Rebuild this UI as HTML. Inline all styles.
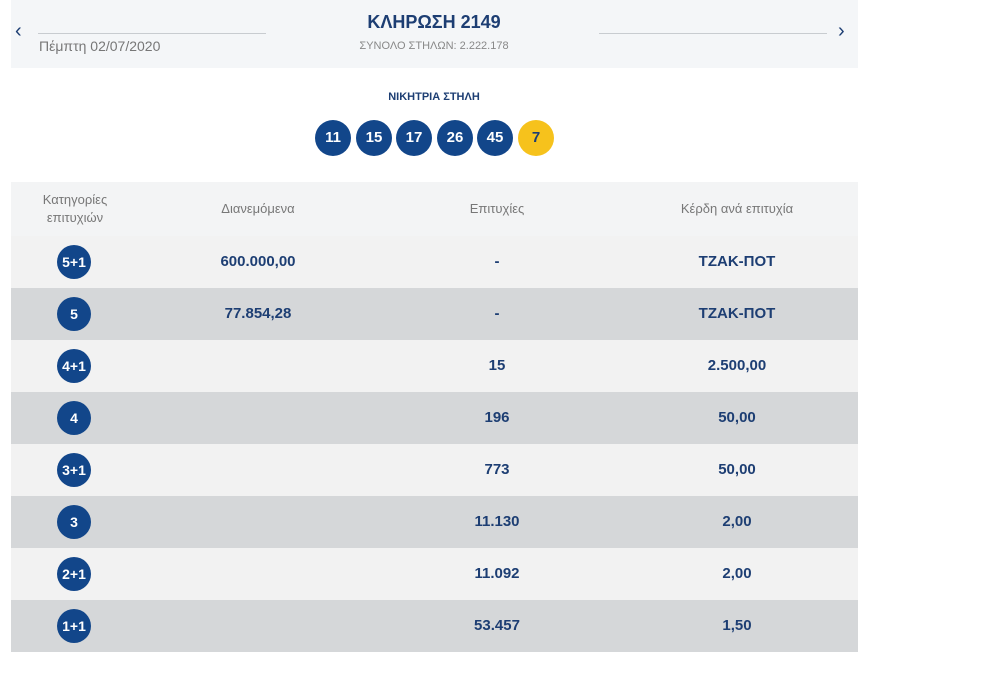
<!DOCTYPE html>
<html><head><meta charset="utf-8"><style>
body{margin:0;width:984px;height:691px;background:#fff;font-family:"Liberation Sans",sans-serif;position:relative;overflow:hidden}
.abs{position:absolute}
.hdr{left:11px;top:0;width:847px;height:68px;background:#f4f6f8}
.line{height:1px;background:#c8ccd0;top:33px}
.ball{width:36px;height:36px;border-radius:50%;background:#12468a;color:#fff;font-weight:bold;font-size:15px;line-height:36px;text-align:center;top:120px}
.row{left:11px;width:847px;height:52px}
.cell{position:absolute;top:0;height:52px;line-height:52px;text-align:center;font-weight:bold;font-size:15px;color:#1d3e73}
.cat{position:absolute;left:46px;top:9px;width:34px;height:34px;border-radius:50%;background:#12468a;color:#fff;font-weight:bold;font-size:14px;line-height:34px;text-align:center}
.th{position:absolute;color:#777;font-size:13px;text-align:center}
</style></head><body>
<div class="abs hdr"></div>
<div class="abs" style="left:15px;top:20px;font-size:20px;color:#1d3e73">‹</div>
<div class="abs" style="left:838px;top:20px;font-size:20px;color:#1d3e73">›</div>
<div class="abs line" style="left:38px;width:228px"></div>
<div class="abs line" style="left:599px;width:228px"></div>
<div class="abs" style="left:39px;top:38px;font-size:14px;color:#777">Πέμπτη 02/07/2020</div>
<div class="abs" style="left:300px;width:268px;top:12px;text-align:center;font-size:18px;font-weight:bold;color:#1d3e73">ΚΛΗΡΩΣΗ 2149</div>
<div class="abs" style="left:300px;width:268px;top:40px;text-align:center;font-size:11px;color:#888">ΣΥΝΟΛΟ ΣΤΗΛΩΝ: 2.222.178</div>
<div class="abs" style="left:300px;width:268px;top:91px;text-align:center;font-size:11px;font-weight:bold;color:#1d3e73">ΝΙΚΗΤΡΙΑ ΣΤΗΛΗ</div>
<div class="abs ball" style="left:315px">11</div>
<div class="abs ball" style="left:356px">15</div>
<div class="abs ball" style="left:396px">17</div>
<div class="abs ball" style="left:437px">26</div>
<div class="abs ball" style="left:477px">45</div>
<div class="abs ball" style="left:518px;background:#f6c21c;color:#1d3e73">7</div>
<div class="abs" style="left:11px;top:182px;width:847px;height:54px;background:#f3f4f5">
<div class="th" style="left:14px;width:100px;top:9px;line-height:18px">Κατηγορίες<br>επιτυχιών</div>
<div class="th" style="left:147px;width:200px;top:19px">Διανεμόμενα</div>
<div class="th" style="left:386px;width:200px;top:19px">Επιτυχίες</div>
<div class="th" style="left:626px;width:200px;top:19px">Κέρδη ανά επιτυχία</div>
</div>
<div id="rows"></div>
<script>
const cats=["5+1","5","4+1","4","3+1","3","2+1","1+1"];
const dist=["600.000,00","77.854,28","","","","","",""];
const wins=["-","-","15","196","773","11.130","11.092","53.457"];
const prize=["ΤΖΑΚ-ΠΟΤ","ΤΖΑΚ-ΠΟΤ","2.500,00","50,00","50,00","2,00","2,00","1,50"];
const host=document.getElementById('rows');
cats.forEach((c,i)=>{
 const r=document.createElement('div');
 r.className='abs row';
 r.style.top=(236+i*52)+'px';
 r.style.background=i%2?'#d5d7d9':'#f2f2f2';
 
 
 r.innerHTML='<div class="cat">'+c+'</div>'+
 '<div class="cell" style="left:147px;width:200px">'+dist[i]+'</div>'+
 '<div class="cell" style="left:386px;width:200px">'+wins[i]+'</div>'+
 '<div class="cell" style="left:626px;width:200px">'+prize[i]+'</div>';
 host.appendChild(r);
});
</script>
</body></html>
